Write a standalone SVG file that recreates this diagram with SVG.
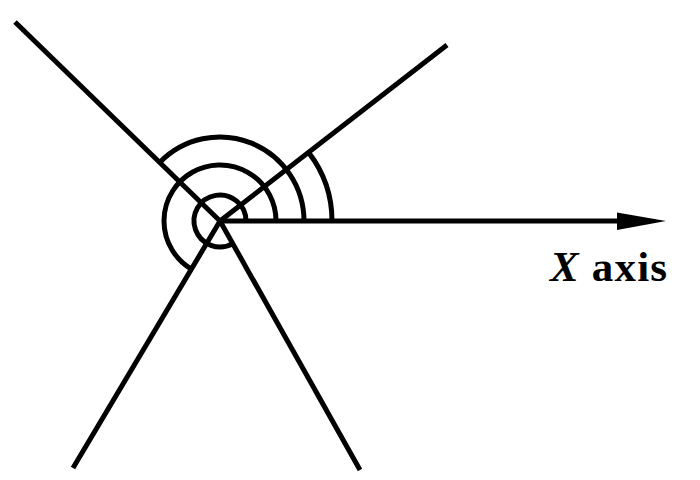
<svg xmlns="http://www.w3.org/2000/svg" width="700" height="480" viewBox="0 0 700 480">
<style>
.ln{stroke:#000;stroke-width:5;fill:none;stroke-linecap:butt}
.lbl{font-family:"Liberation Serif","DejaVu Serif",serif;font-weight:bold;font-size:43px;fill:#000}
</style>
<rect width="700" height="480" fill="#fff"/>
<g id="connectors">
<line class="ln" x1="220" y1="221" x2="15" y2="22"/>
<line class="ln" x1="220" y1="221" x2="447" y2="45"/>
<line class="ln" x1="220" y1="221" x2="73" y2="468"/>
<line class="ln" x1="220" y1="221" x2="360" y2="470"/>
<line class="ln" x1="220" y1="221" x2="625" y2="221"/>
<polygon points="617,212.5 666,221 617,230" fill="#000"/>
</g>
<g id="arcs">
<path class="ln" d="M246 221 A26 26 0 1 0 232.8 243.6"/>
<path class="ln" d="M276 221 A56 56 0 1 0 191.4 269.1"/>
<path class="ln" d="M304 221 A84 84 0 0 0 159.7 162.5"/>
<path class="ln" d="M332 221 A112 112 0 0 0 308.5 152.4"/>
</g>
<g id="label">
<text class="lbl" x="550" y="281" textLength="117" lengthAdjust="spacing"><tspan font-style="italic">X</tspan> axis</text>
</g>
</svg>
